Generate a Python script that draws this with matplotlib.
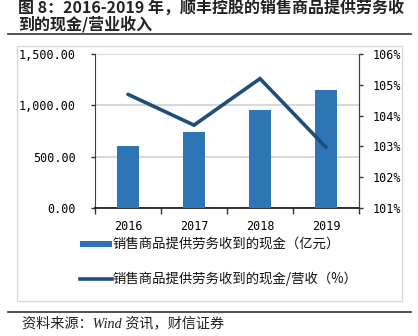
import matplotlib
matplotlib.use("Agg")
import matplotlib.pyplot as plt
from matplotlib.patches import Rectangle
from matplotlib.lines import Line2D
from matplotlib.ticker import FuncFormatter

plt.rcParams['font.family'] = ['Noto Sans CJK SC', 'DejaVu Sans']

# ---- data ----
years = ["2016", "2017", "2018", "2019"]
cash_received = [600, 738, 955, 1153]          # 亿元
cash_to_revenue = [104.69, 103.69, 105.20, 102.97]  # %
left_ticks = [0, 500, 1000, 1500]
right_ticks = [101, 102, 103, 104, 105, 106]

title_line1 = "图 8：2016-2019 年，顺丰控股的销售商品提供劳务收"
title_line2 = "到的现金/营业收入"
legend_bar = "销售商品提供劳务收到的现金（亿元）"
legend_line = "销售商品提供劳务收到的现金/营收（%）"
source = "资料来源：Wind 资讯，财信证券"

W, H = 418, 336
fig = plt.figure(figsize=(W / 100, H / 100), dpi=100)

def fx(px):
    return px / W

def fy(py):
    return 1 - py / H

bar_color = "#2E75B6"
line_color = "#1F4E79"
grid_color = "#D9D9D9"
mono = "DejaVu Sans Mono"

# title
fig.text(fx(18), fy(8), title_line1, fontsize=11.5, weight='bold', va='center', ha='left', color='#222222')
fig.text(fx(18), fy(24), title_line2, fontsize=11.5, weight='bold', va='center', ha='left', color='#222222')
fig.add_artist(Line2D([fx(8), fx(411)], [fy(34), fy(34)], color='#333333', lw=1.2))

# chart box
fig.add_artist(Rectangle((fx(17), fy(301)), fx(402) - fx(17), fy(46) - fy(301),
                         fill=False, edgecolor='#D9D9D9', lw=1.0))

# axes
ax = fig.add_axes([fx(95), fy(208), fx(359) - fx(95), fy(54) - fy(208)])
x = list(range(len(years)))
ax.bar(x, cash_received, width=0.33, color=bar_color, zorder=3)
ax.set_xlim(-0.5, 3.5)
ax.set_ylim(0, 1500)
ax.set_yticks(left_ticks)
ax.yaxis.set_major_formatter(FuncFormatter(lambda v, p: f"{v:,.2f}"))
ax.grid(axis='y', color=grid_color, lw=1.5, zorder=0)
ax.set_axisbelow(True)

ax.set_xticks([-0.5, 0.5, 1.5, 2.5, 3.5])
ax.set_xticklabels([])
ax.set_xticks(x, minor=True)
ax.set_xticklabels(years, minor=True, fontfamily=mono, fontsize=8.5)
ax.tick_params(axis='x', which='minor', length=0, pad=9)
ax.tick_params(axis='x', which='major', length=4, width=1, color='#333333', direction='out')
ax.tick_params(axis='y', length=3, width=1, color='#333333', pad=11)
for lab in ax.get_yticklabels():
    lab.set_fontfamily(mono)
    lab.set_fontsize(8.5)

ax.spines['top'].set_visible(False)
ax.spines['left'].set_color('#404040')
ax.spines['right'].set_color('#404040')
ax.spines['bottom'].set_color('#111111')
ax.spines['bottom'].set_linewidth(1.2)

ax2 = ax.twinx()
ax2.plot(x, cash_to_revenue, color=line_color, lw=2.6, solid_capstyle='round', solid_joinstyle='miter', zorder=5)
ax2.set_ylim(101, 106)
ax2.set_yticks(right_ticks)
ax2.set_yticklabels([f"{t}%" for t in right_ticks], fontfamily=mono, fontsize=8.5)
ax2.tick_params(axis='y', length=3, width=1, color='#333333', pad=7)
ax2.spines['top'].set_visible(False)
ax2.spines['left'].set_visible(False)
ax2.spines['bottom'].set_visible(False)
ax2.spines['right'].set_color('#404040')

# legend
fig.add_artist(Rectangle((fx(80), fy(247)), fx(112) - fx(80), fy(241) - fy(247),
                         facecolor=bar_color, edgecolor='none'))
fig.text(fx(113), fy(244), legend_bar, fontsize=9.6, va='center', ha='left', color='#111111')
fig.add_artist(Line2D([fx(80), fx(112)], [fy(279), fy(279)], color=line_color, lw=2.6))
fig.text(fx(113), fy(279), legend_line, fontsize=9.6, va='center', ha='left', color='#111111')

# bottom rule and source
fig.add_artist(Line2D([fx(8), fx(411)], [fy(312), fy(312)], color='#333333', lw=1.2))
fig.text(fx(22), fy(324), source, fontsize=10.2, style='italic',
         family=['Liberation Serif', 'Noto Sans CJK SC'], va='center', ha='left', color='#222222')

fig.savefig("out.png", dpi=100)
